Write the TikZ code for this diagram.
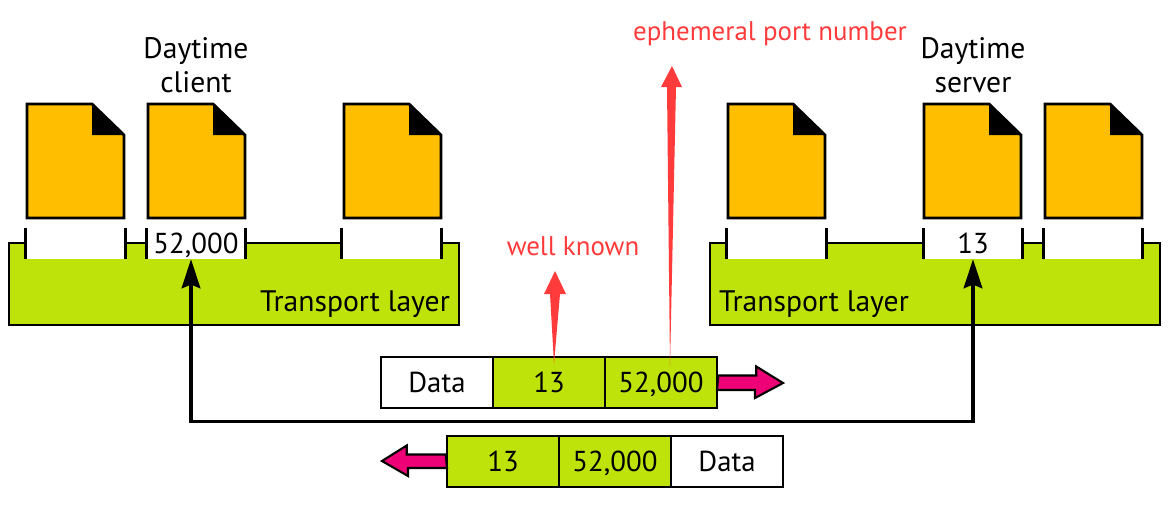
\documentclass[tikz,border=0pt]{standalone}
\usepackage{fontspec}
\setmainfont{PT Sans}
\usetikzlibrary{arrows.meta}
\definecolor{docorange}{HTML}{FFBE00}
\definecolor{layergreen}{HTML}{BEE30B}
\definecolor{flowpink}{HTML}{EE0077}
\definecolor{notered}{HTML}{FF3B3B}
\tikzset{
  docfile/.style={draw,line width=2.4pt,fill=docorange,line join=miter},
  foldcorner/.style={fill=black},
  layerbox/.style={draw,line width=2.2pt,fill=layergreen,minimum width=450*0.03cm,minimum height=82*0.03cm,inner sep=0pt},
  portslot/.style={fill=white,inner sep=0pt,minimum width=99*0.03cm,minimum height=31*0.03cm},
  porttick/.style={line width=2.2pt},
  cell/.style={draw,line width=2.2pt,inner sep=0pt,minimum width=112*0.03cm,minimum height=51*0.03cm},
  hdrcell/.style={cell,fill=layergreen},
  datacell/.style={cell,fill=white},
  flowarrow/.style={draw,line width=1.8pt,fill=flowpink,line join=miter},
  wirearrow/.style={line width=3pt,{Stealth[length=0.87cm,width=0.56cm,inset=0.11cm]}-{Stealth[length=0.87cm,width=0.56cm,inset=0.11cm]}},
  notearrow/.style={fill=notered},
  lbl/.style={font=\fontsize{25.3}{29}\selectfont,inner sep=0pt},
  numlbl/.style={font=\fontsize{24.6}{29}\selectfont,text height=17pt,text depth=0pt},
  notelbl/.style={font=\fontsize{23}{23}\selectfont,inner sep=0pt,text=notered}
}
\begin{document}
\begin{tikzpicture}[x=0.03cm,y=-0.03cm]
\useasboundingbox (0,0) rectangle (1175,524);
% application files
\foreach \n/\x in {fa/27,fb/148,fc/344,fd/728,fe/924,ff/1045}{
  \coordinate (\n) at (\x,104);
  \draw[docfile] (\n) -- ++(65,0) -- ++(32,31) -- ++(0,83) -- ++(-97,0) -- cycle;
  \fill[foldcorner] (\n) ++(65,0) -- ++(32,31) -- ++(-32,0) -- cycle;
}
% transport layers
\node[layerbox] (left) at (234,284) {};
\node[layerbox] (right) at (935,284) {};
\node[lbl,anchor=base] (lefttxt) at (355,311) {Transport layer};
\node[lbl,anchor=base] (righttxt) at (814,311) {Transport layer};
% ports
\foreach \n/\x/\t in {pa/75.5/,pb/196/52{,}000,pc/391.5/,pd/776.5/,pe/973/13,pf/1093/}{
  \node[portslot,numlbl] (\n) at (\x,243.5) {\t};
  \draw[porttick] (\n.north west) -- (\n.south west) (\n.north east) -- (\n.south east);
}
% packets
\node[datacell,numlbl] (d1) at (437,382.5) {Data};
\node[hdrcell,numlbl] (h1) at (549,382.5) {13};
\node[hdrcell,numlbl] (p1) at (661,382.5) {52,000};
\node[hdrcell,numlbl] (h2) at (503,461.5) {13};
\node[hdrcell,numlbl] (p2) at (615,461.5) {52,000};
\node[datacell,numlbl] (d2) at (727,461.5) {Data};
% flow directions
\draw[flowarrow] (p1.east) ++(0,-7) -- ++(38,0) -- ++(0,-9) -- (783,383) -- (755,398) -- (755,390) -- (717,390) -- cycle;
\draw[flowarrow] (h2.west) ++(0,-7) -- ++(-39,0) -- ++(0,-9) -- (382,461) -- (408,476) -- (408,468) -- (447,468) -- cycle;
% connection
\coordinate (wire) at (0,421.5);
\draw[wirearrow] ([xshift=-0.15cm]pb.south) -- ([xshift=-0.15cm]pb.south |- wire) -- (pe.south |- wire) -- (pe.south);
% titles
\node[lbl,align=center] (client) at (196,65) {Daytime\\client};
\node[lbl,align=center] (server) at (973,65) {Daytime\\server};
% notes
\node[notelbl,anchor=base] (well) at (573,255) {well known};
\node[notelbl,anchor=base] (ephem) at (770,40) {ephemeral port number};
\fill[notearrow] (h1.north) ++(5,8) -- (560,294) -- (566,294) -- (555,271) -- (544,294) -- (550,294) -- cycle;
\fill[notearrow] (670,366) -- (676,87) -- (682,87) -- (672,66) -- (661,87) -- (667,87) -- cycle;
\end{tikzpicture}
\end{document}
